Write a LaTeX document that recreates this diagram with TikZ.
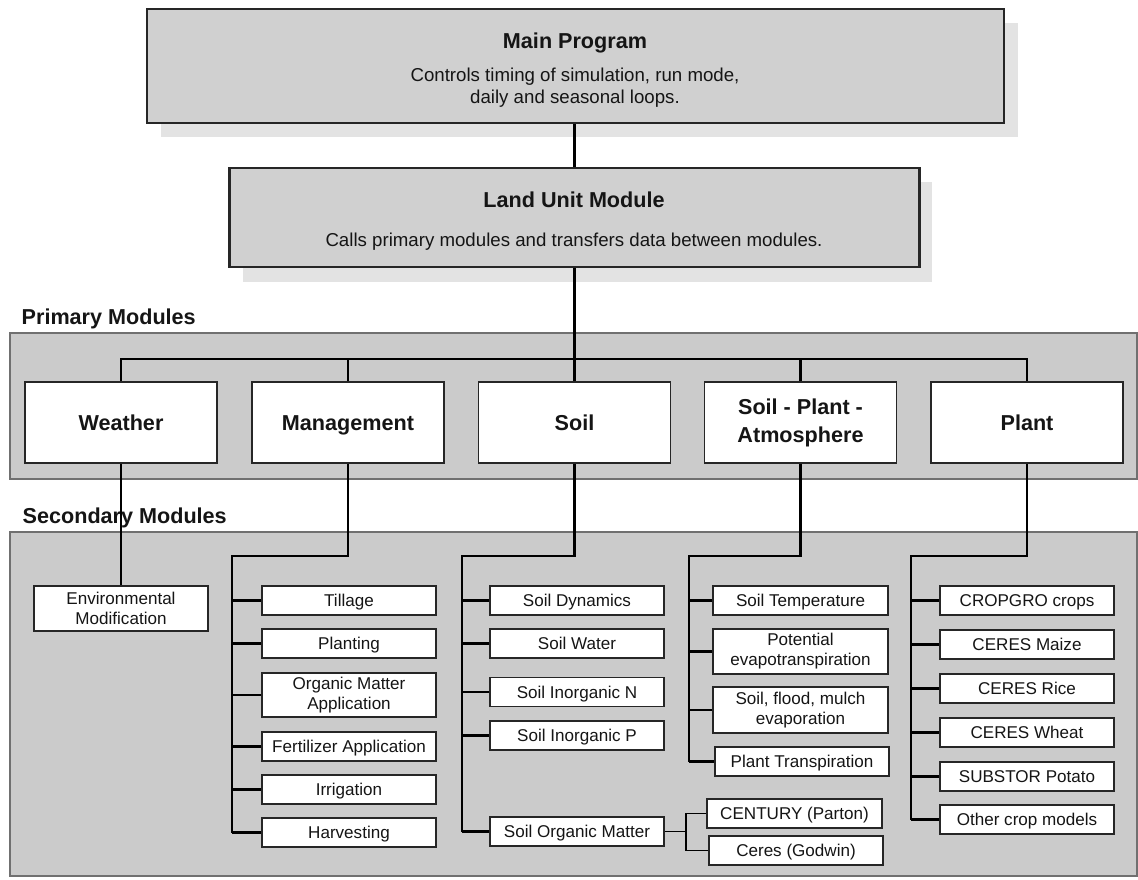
\documentclass[tikz,border=0pt]{standalone}
\usepackage{fontspec}
\setmainfont{Liberation Sans}
\def\pxu{0.75pt}
\newcommand\bigtext{\fontsize{16.2pt}{20pt}\selectfont\bfseries}
\newcommand\subtext{\fontsize{14pt}{16.5pt}\selectfont}
\newcommand\smalltext{\fontsize{12.8pt}{15pt}\selectfont}
\definecolor{panelfill}{HTML}{CBCBCB}
\definecolor{panelline}{HTML}{707070}
\definecolor{topfill}{HTML}{D0D0D0}
\definecolor{shadowgray}{HTML}{E3E3E3}
\definecolor{boxline}{HTML}{262626}
\definecolor{ink}{HTML}{151515}
\begin{document}
\begin{tikzpicture}[x=0.75pt,y=-0.75pt,
  text=ink,
  panel/.style={draw=panelline, fill=panelfill, line width=1.2pt},
  shadow/.style={fill=shadowgray, draw=none},
  topbox/.style={draw=boxline, fill=topfill, line width=1.7pt, inner sep=0pt},
  pbox/.style={draw=boxline, fill=white, line width=1.4pt, inner sep=0pt,
    minimum width=192*\pxu, minimum height=81*\pxu, font=\bigtext, align=center},
  cbox/.style={draw=boxline, fill=white, line width=1.3pt, inner sep=0pt,
    minimum width=174*\pxu, font=\smalltext, align=center},
  one/.style={minimum height=29*\pxu, text height=9.2pt, text depth=0pt},
  bigone/.style={text height=11.6pt, text depth=0pt},
  two/.style={minimum height=45*\pxu},
  conn/.style={line width=2pt, black, line join=miter},
  thinconn/.style={line width=0.9pt, black}]

\useasboundingbox (0,0) rectangle (1138,879);

% drop shadows of the two top boxes
\fill[shadow] (161,23) rectangle (1018,137);
\fill[shadow] (243,182) rectangle (932,282);

% top level boxes
\node[topbox, minimum width=857*\pxu, minimum height=114*\pxu] (main) at (575.5,66) {};
\node[anchor=base, font=\bigtext] (mainT) at (575,48) {Main Program};
\node[font=\subtext, align=center] (mainD) at (575,88)
  {Controls timing of simulation, run mode,\\daily and seasonal loops.};

\node[topbox, minimum width=690*\pxu, minimum height=99*\pxu] (land) at (574.5,217.5) {};
\node[anchor=base, font=\bigtext] (landT) at (574,207) {Land Unit Module};
\node[anchor=base, font=\subtext] (landD) at (574,246)
  {Calls primary modules and transfers data between modules.};

% module panels
\draw[panel] (10,333) rectangle (1137,479);
\draw[panel] (10,532) rectangle (1137,876);
\node[anchor=base west, font=\bigtext] (primL) at (17,324) {Primary Modules};
\node[anchor=base west, font=\bigtext] (secL) at (18,523) {Secondary Modules};

% primary modules
\node[pbox, bigone] (weather) at (121,422.5) {Weather};
\node[pbox, bigone] (mgmt) at (348,422.5) {Management};
\node[pbox, bigone] (soil) at (574.5,422.5) {Soil};
\node[pbox] (spa) at (800.5,422.5) {Soil - Plant -\\[1pt]Atmosphere};
\node[pbox, bigone] (plant) at (1027,422.5) {Plant};

% secondary modules: weather
\node[cbox, two] (env) at (121,608.5) {Environmental\\Modification};

% management
\node[cbox, one] (til) at (349,600.5) {Tillage};
\node[cbox, one] (plnt) at (349,643.5) {Planting};
\node[cbox, minimum height=44*\pxu] (oma) at (349,695) {Organic Matter\\Application};
\node[cbox, one] (fert) at (349,746.5) {Fertilizer Application};
\node[cbox, one] (irr) at (349,789.5) {Irrigation};
\node[cbox, one] (harv) at (349,832.5) {Harvesting};

% soil
\node[cbox, one] (sdyn) at (577,600.5) {Soil Dynamics};
\node[cbox, one] (swat) at (577,643.5) {Soil Water};
\node[cbox, one] (sinn) at (577,692) {Soil Inorganic N};
\node[cbox, one] (sinp) at (577,735.5) {Soil Inorganic P};
\node[cbox, one] (som) at (577,831.5) {Soil Organic Matter};
\node[cbox, one, minimum width=175*\pxu] (cent) at (794.5,813.5) {CENTURY (Parton)};
\node[cbox, one] (ceres) at (796,850.5) {Ceres (Godwin)};

% soil - plant - atmosphere
\node[cbox, one, minimum width=175*\pxu] (stemp) at (800.5,600.5) {Soil Temperature};
\node[cbox, two, minimum width=175*\pxu] (pet) at (800.5,651.5) {Potential\\evapotranspiration};
\node[cbox, minimum height=46*\pxu, minimum width=175*\pxu] (sfm) at (800.5,710) {Soil, flood, mulch\\evaporation};
\node[cbox, one] (ptr) at (802,761.5) {Plant Transpiration};

% plant
\node[cbox, one] (cgro) at (1027,600.5) {CROPGRO crops};
\node[cbox, one] (cmz) at (1027,644.5) {CERES Maize};
\node[cbox, one] (cri) at (1027,688.5) {CERES Rice};
\node[cbox, one] (cwh) at (1027,732.5) {CERES Wheat};
\node[cbox, one] (spo) at (1027,776.5) {SUBSTOR Potato};
\node[cbox, one] (ocm) at (1027,819.5) {Other crop models};

% connectors: top hierarchy
\coordinate (bus) at (574.5,359);
\draw[conn] (land.north |- main.south) -- (land.north);
\draw[conn] (land.south) -- (land.south |- bus);
\draw[conn] (weather.north) |- (bus) -| (plant.north);
\draw[conn] (mgmt.north) -- (mgmt.north |- bus);
\draw[conn] (soil.north) -- (soil.north |- bus);
\draw[conn] (spa.north) -- (spa.north |- bus);

% connectors: primary to secondary
\draw[conn] (weather.south) -- (env.north);

\coordinate (mgmtT) at (232,556);
\draw[conn] (mgmt.south) |- (mgmtT) -- (mgmtT |- harv.west);
\foreach \n in {til,plnt,oma,fert,irr,harv}
  \draw[conn] (mgmtT |- \n.west) -- (\n.west);

\coordinate (soilT) at (462,556);
\draw[conn] (soil.south) |- (soilT) -- (soilT |- som.west);
\foreach \n in {sdyn,swat,sinn,sinp,som}
  \draw[conn] (soilT |- \n.west) -- (\n.west);

\coordinate (spaT) at (689,556);
\draw[conn] (spa.south) |- (spaT) -- (spaT |- ptr.west);
\foreach \n in {stemp,pet,sfm,ptr}
  \draw[conn] (spaT |- \n.west) -- (\n.west);

\coordinate (plantT) at (911,556);
\draw[conn] (plant.south) |- (plantT) -- (plantT |- ocm.west);
\foreach \n in {cgro,cmz,cri,cwh,spo,ocm}
  \draw[conn] (plantT |- \n.west) -- (\n.west);

% soil organic matter alternatives
\coordinate (somF) at (686,831.5);
\draw[thinconn] (som.east) -- (somF);
\draw[thinconn] (cent.west) -| (somF) |- (ceres.west);
\end{tikzpicture}
\end{document}
